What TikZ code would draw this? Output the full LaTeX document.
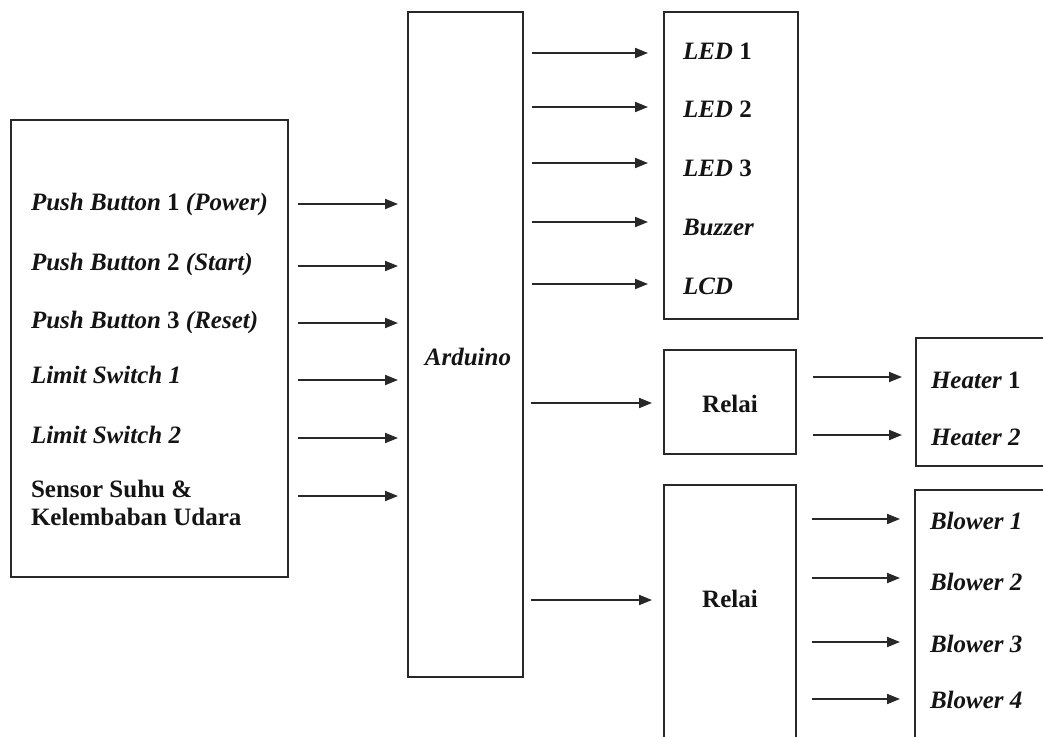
\documentclass[tikz,border=0pt]{standalone}
\usepackage{fontspec}
\setmainfont{Liberation Serif}
\usetikzlibrary{arrows.meta,calc}
\definecolor{linec}{RGB}{40,40,40}
\definecolor{txtc}{RGB}{20,20,20}
\begin{document}
\begin{tikzpicture}[x=1pt,y=-1pt,
  box/.style={draw=linec,line width=1.8pt,rectangle,inner sep=0pt,outer sep=0pt},
  lbl/.style={anchor=base west,inner sep=0pt,outer sep=0pt,font=\fontsize{25}{30}\selectfont\bfseries,text=txtc},
  clbl/.style={lbl,anchor=base},
  arr/.style={draw=linec,line width=1.9pt,-{Triangle[length=13pt,width=10pt]}}]
\useasboundingbox (0,0) rectangle (1043,736);
\clip (0,0) rectangle (1043,736);
\fill[white] (0,0) rectangle (1043,736);
% boxes
\node[box,minimum width=277pt,minimum height=457pt] (inbox) at (149.5,348.5) {};
\node[box,minimum width=115pt,minimum height=665pt] (ard) at (465.5,344.5) {};
\node[box,minimum width=134pt,minimum height=307pt] (led) at (731,165.5) {};
\node[box,minimum width=132pt,minimum height=104pt] (rel1) at (730,402) {};
\node[box,minimum width=132pt,minimum height=280pt] (rel2) at (730,625) {};
\node[box,minimum width=150pt,minimum height=128pt] (heat) at (991,402) {};
\node[box,minimum width=150pt,minimum height=280pt] (blow) at (990,630) {};
% input texts
\node[lbl] (pb1) at (31,210) {\itshape Push Button \upshape 1 \itshape (Power)};
\node[lbl] (pb2) at (31,270) {\itshape Push Button \upshape 2 \itshape (Start)};
\node[lbl] (pb3) at (31,328) {\itshape Push Button \upshape 3 \itshape (Reset)};
\node[lbl] (ls1) at (31,383) {\itshape Limit Switch 1};
\node[lbl] (ls2) at (31,443) {\itshape Limit Switch 2};
\node[lbl] (sen1) at (31,497) {Sensor Suhu \&};
\node[lbl] (sen2) at (31,525) {Kelembaban Udara};
% arduino
\node[clbl] (ardt) at (468,365) {\itshape Arduino};
% outputs
\node[lbl] (led1) at (683,59) {\itshape LED \upshape 1};
\node[lbl] (led2) at (683,117) {\itshape LED \upshape 2};
\node[lbl] (led3) at (683,176) {\itshape LED \upshape 3};
\node[lbl] (buz) at (683,235) {\itshape Buzzer};
\node[lbl] (lcd) at (683,294) {\itshape LCD};
\node[clbl] (r1t) at (730,412) {Relai};
\node[clbl] (r2t) at (730,607) {Relai};
\node[lbl] (h1) at (931,388) {\itshape Heater \upshape 1};
\node[lbl] (h2) at (931,445) {\itshape Heater 2};
\node[lbl] (b1) at (930,529) {\itshape Blower 1};
\node[lbl] (b2) at (930,590) {\itshape Blower 2};
\node[lbl] (b3) at (930,652) {\itshape Blower 3};
\node[lbl] (b4) at (930,708) {\itshape Blower 4};
% arrow levels
\foreach \n/\y in {i1/204,i2/266,i3/323,i4/380,i5/438,i6/496,
  o1/53,o2/107,o3/163,o4/222,o5/284,r1/403,r2/600,
  h1/377,h2/435,b1/519,b2/578,b3/642,b4/699}
  \coordinate (y\n) at (0,\y);
\foreach \n in {i1,i2,i3,i4,i5,i6}
  \draw[arr] ($(inbox.east|-y\n)+(10,0)$) -- ($(ard.west|-y\n)+(-10,0)$);
\foreach \n in {o1,o2,o3,o4,o5}
  \draw[arr] ($(ard.east|-y\n)+(9,0)$) -- ($(led.west|-y\n)+(-16,0)$);
\draw[arr] ($(ard.east|-yr1)+(8,0)$) -- ($(rel1.west|-yr1)+(-12,0)$);
\draw[arr] ($(ard.east|-yr2)+(8,0)$) -- ($(rel2.west|-yr2)+(-12,0)$);
\foreach \n in {h1,h2}
  \draw[arr] ($(rel1.east|-y\n)+(17,0)$) -- ($(heat.west|-y\n)+(-14,0)$);
\foreach \n in {b1,b2,b3,b4}
  \draw[arr] ($(rel2.east|-y\n)+(16,0)$) -- ($(blow.west|-y\n)+(-15,0)$);
\end{tikzpicture}
\end{document}
